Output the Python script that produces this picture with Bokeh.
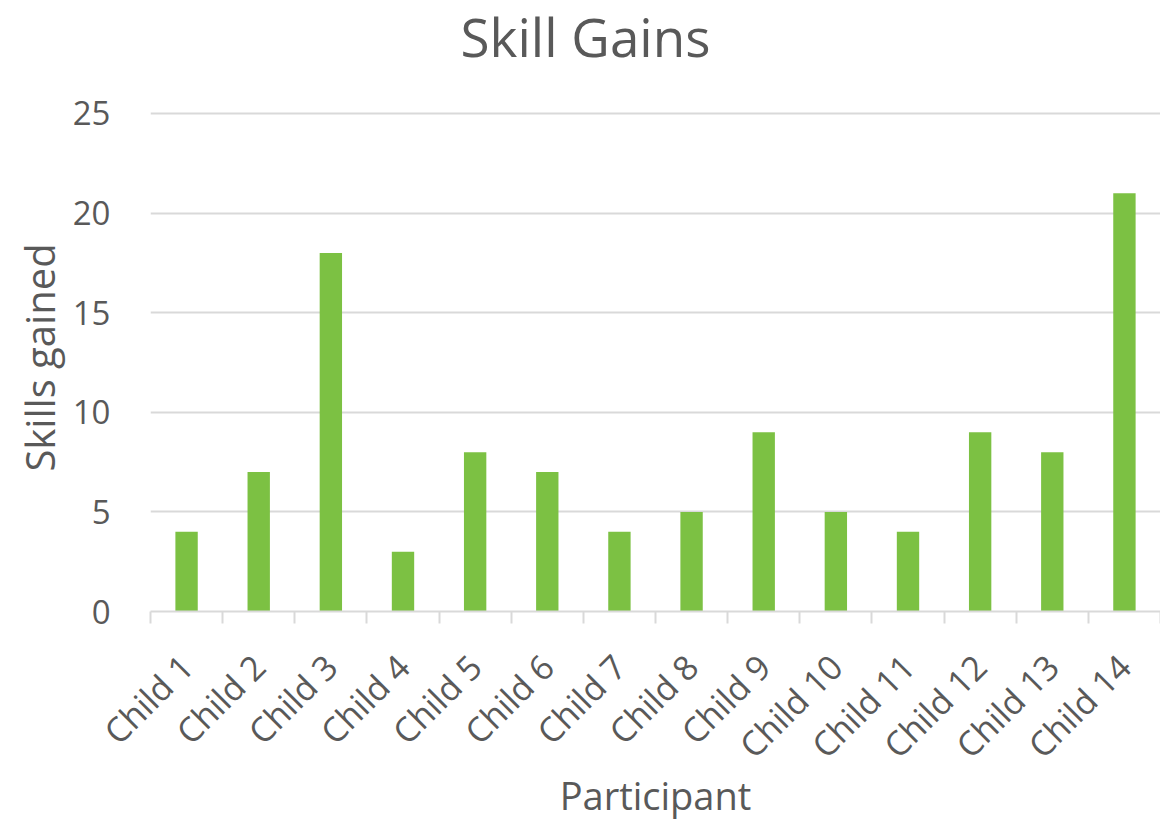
import math
from bokeh.plotting import figure
from bokeh.layouts import column
from bokeh.models import FixedTicker, Range1d, ColumnDataSource
from bokeh.core.properties import value
from bokeh.embed import file_html
from bokeh.resources import INLINE

categories = ["Child 1", "Child 2", "Child 3", "Child 4", "Child 5", "Child 6", "Child 7",
              "Child 8", "Child 9", "Child 10", "Child 11", "Child 12", "Child 13", "Child 14"]
skills = [4, 7, 18, 3, 8, 7, 4, 5, 9, 5, 4, 9, 8, 21]
y_ticks = [0, 5, 10, 15, 20, 25]
title_text = "Skill Gains"

TEXT = "#595959"
FONT = "Open Sans"
BAR = "#7CC143"
GRID = "#D9D9D9"

W = 1160
LEFT = 150
TITLE_H = 80
MAIN_H = 743

# ---- title strip (x measured in canvas pixels, frame spans LEFT..W) ----
t = figure(width=W, height=TITLE_H, output_backend="svg", toolbar_location=None,
           x_range=Range1d(LEFT, W), y_range=Range1d(0, TITLE_H),
           min_border_left=LEFT, min_border_right=0, min_border_top=0, min_border_bottom=0)
t.axis.visible = False
t.grid.visible = False
t.outline_line_color = None
t.border_fill_color = "white"
t.background_fill_color = "white"
t.text(x=[585], y=[TITLE_H - 36], text=[title_text], text_align="center", text_baseline="middle",
       text_font=value(FONT), text_font_size="53px", text_color=TEXT)

# ---- main chart ----
n = len(categories)
centers = [i + 0.5 for i in range(n)]
src = ColumnDataSource(dict(x=centers, top=skills))

p = figure(width=W, height=MAIN_H, output_backend="svg", toolbar_location=None,
           x_range=Range1d(0, n), y_range=Range1d(0, 25.5),
           min_border_left=LEFT, min_border_right=0, min_border_top=23,
           min_border_bottom=209)
p.outline_line_color = None
p.background_fill_color = "white"
p.border_fill_color = "white"

p.vbar(x="x", top="top", width=0.31, bottom=0, source=src, fill_color=BAR, line_color=None)

# x axis
p.xaxis.ticker = FixedTicker(ticks=centers, minor_ticks=list(range(n + 1)))
p.xaxis.major_label_overrides = {c: lab for c, lab in zip(centers, categories)}
p.xaxis.major_label_orientation = math.pi / 4
p.xaxis.major_tick_line_color = None
p.xaxis.minor_tick_line_color = GRID
p.xaxis.minor_tick_line_width = 2
p.xaxis.minor_tick_out = 12
p.xaxis.minor_tick_in = 0
p.xaxis.axis_line_color = GRID
p.xaxis.axis_line_width = 2
p.xaxis.major_label_text_font = FONT
p.xaxis.major_label_text_font_size = "34px"
p.xaxis.major_label_text_color = TEXT
p.xaxis.major_label_standoff = 37
p.xaxis.axis_label = "Participant"
p.xaxis.axis_label_text_font = FONT
p.xaxis.axis_label_text_font_size = "38px"
p.xaxis.axis_label_text_font_style = "normal"
p.xaxis.axis_label_text_color = TEXT
p.xaxis.axis_label_standoff = -18

# y axis
p.yaxis.ticker = FixedTicker(ticks=y_ticks)
p.yaxis.axis_line_color = None
p.yaxis.major_tick_line_color = None
p.yaxis.minor_tick_line_color = None
p.yaxis.major_label_text_font = FONT
p.yaxis.major_label_text_font_size = "33px"
p.yaxis.major_label_text_color = TEXT
p.yaxis.major_label_standoff = 34
p.yaxis.axis_label = "Skills gained"
p.yaxis.axis_label_text_font = FONT
p.yaxis.axis_label_text_font_size = "40px"
p.yaxis.axis_label_text_font_style = "normal"
p.yaxis.axis_label_text_color = TEXT
p.yaxis.axis_label_standoff = 3

p.xgrid.grid_line_color = None
p.ygrid.grid_line_color = GRID
p.ygrid.grid_line_width = 2

layout = column(t, p, spacing=0)
open("out.html", "w").write(file_html(layout, INLINE))
